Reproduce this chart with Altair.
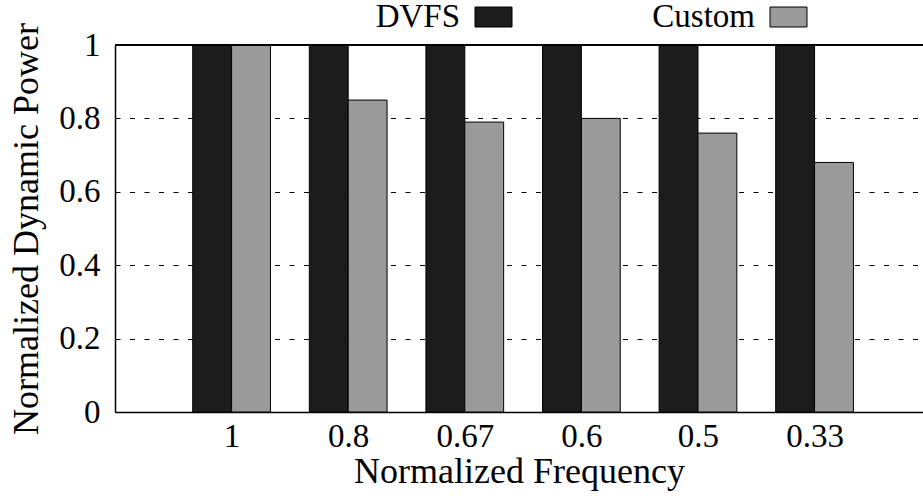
import altair as alt
import pandas as pd

freq_labels = ["1", "0.8", "0.67", "0.6", "0.5", "0.33"]
dvfs_values = [1.0, 1.0, 1.0, 1.0, 1.0, 1.0]
custom_values = [1.0, 0.85, 0.79, 0.80, 0.76, 0.68]
series_names = ["DVFS", "Custom"]
series_colors = ["#1c1c1c", "#9a9a9a"]
y_ticks = [0, 0.2, 0.4, 0.6, 0.8, 1]

rows = []
for i, lab in enumerate(freq_labels):
    rows.append({"freq": lab, "pos": i + 1, "series": "DVFS", "value": dvfs_values[i]})
    rows.append({"freq": lab, "pos": i + 1, "series": "Custom", "value": custom_values[i]})
df = pd.DataFrame(rows)

FONT = "Liberation Serif"
W, H = 808, 367
BAR = 1 / 3

label_arr = "[''," + ",".join("'%s'" % l for l in freq_labels) + "]"

xscale = alt.Scale(domain=[0, 6.93], nice=False, zero=False)
yscale = alt.Scale(domain=[0, 1], nice=False)

bars = alt.Chart(df).transform_calculate(
    x0=f"datum.series == 'DVFS' ? datum.pos - {BAR} : datum.pos",
    x1=f"datum.series == 'DVFS' ? datum.pos : datum.pos + {BAR}",
).mark_rect(stroke="black", strokeWidth=1).encode(
    x=alt.X("x0:Q", scale=xscale, axis=alt.Axis(
        values=list(range(1, len(freq_labels) + 1)),
        labelExpr=f"{label_arr}[datum.value]",
        labelFont=FONT, labelFontSize=33, labelColor="black",
        labelPadding=8, ticks=False, tickSize=0, grid=False,
        domainColor="black", domainWidth=1.5,
        title="Normalized Frequency", titleFont=FONT, titleFontSize=36,
        titleFontWeight="normal", titleColor="black",
        titleX=W / 2, titleY=70, titleBaseline="alphabetic", titleAlign="center",
    )),
    x2="x1:Q",
    y=alt.Y("value:Q", scale=yscale, axis=alt.Axis(
        values=y_ticks, format="g",
        labelFont=FONT, labelFontSize=33, labelColor="black",
        labelPadding=15, ticks=False, tickSize=0,
        grid=True, gridColor="#000", gridDash=[5, 9.5], gridWidth=1.2,
        domainColor="black", domainWidth=1.5,
        title="Normalized Dynamic Power", titleFont=FONT, titleFontSize=36,
        titleFontWeight="normal", titleColor="black",
        titleX=-78, titleY=H / 2, titleAngle=270, titleBaseline="alphabetic",
        titleAlign="center",
    )),
    y2=alt.datum(0),
    color=alt.Color("series:N", scale=alt.Scale(domain=series_names, range=series_colors), legend=None),
)

top_line = alt.Chart(df).mark_rule(color="black", strokeWidth=1.5).encode(
    x=alt.value(0), x2=alt.value(W), y=alt.value(0)
)

legend_layers = []
legend_text_x = [345, 640]
legend_sw_x = [360, 655]
for name, col, tx, sx in zip(series_names, series_colors, legend_text_x, legend_sw_x):
    legend_layers.append(
        alt.Chart(pd.DataFrame({"name": [name]})).mark_text(
            font=FONT, fontSize=33, align="right", baseline="alphabetic", color="black"
        ).encode(text="name:N", x=alt.value(tx), y=alt.value(-18))
    )
    legend_layers.append(
        alt.Chart(pd.DataFrame({"name": [name]})).mark_rect(
            color=col, stroke="black", strokeWidth=1
        ).encode(x=alt.value(sx), x2=alt.value(sx + 37), y=alt.value(-38), y2=alt.value(-18))
    )

chart = alt.layer(bars, top_line, *legend_layers).properties(
    width=W, height=H,
    padding={"left": 115, "top": 45, "right": 0, "bottom": 87},
    autosize=alt.AutoSizeParams(type="none"),
    background="white",
).configure_view(stroke=None)

chart.save("out.html", embed_options={"renderer": "svg", "actions": False})
